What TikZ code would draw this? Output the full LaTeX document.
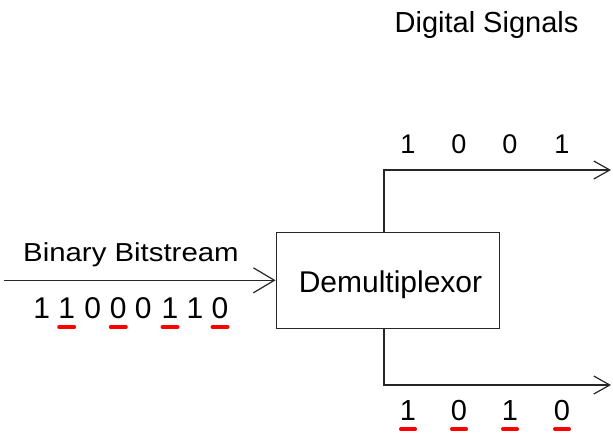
\documentclass[tikz,border=0pt]{standalone}
\usepackage{fontspec}
\setmainfont{Liberation Sans}
\usetikzlibrary{arrows.meta}
\tikzset{
  lbl/.style={inner sep=0pt, anchor=base},
  wire/.style={line width=1.3pt, draw=black!85},
  bigbarb/.style={-{Straight Barb[length=21pt,width=25pt,line width=1.2pt]}},
  smallbarb/.style={-{Straight Barb[length=16pt,width=18pt,line width=1.2pt]}},
  redmark/.style={line width=4pt, red, line cap=round},
}
\newcommand{\fs}[1]{\fontsize{#1}{#1}\selectfont}
\begin{document}
\begin{tikzpicture}[x=1pt,y=-1pt]
\useasboundingbox (0,0) rectangle (613,434);
% title
\node[lbl] (title) at (486.5,32) {\fs{29}Digital Signals};
% demux box
\node[draw=black!85, line width=1.3pt, minimum width=223pt, minimum height=96pt, inner sep=0pt] (demux) at (387.7,280.3) {};
\node[lbl] (demuxtxt) at (390.5,292) {\fs{30}Demultiplexor};
% input
\coordinate (in) at (4,280.3);
\draw[wire, bigbarb] (in) -- (demux.west);
\node[lbl, anchor=base west] (bin) at (23,261) {\scalebox{1.13}[1]{\fs{26}Binary Bitstream}};
% input digits
\foreach \d/\x [count=\i] in {1/41.7,1/66.7,0/92.7,0/118.3,0/143.3,1/170,1/195,0/220}{
  \node[lbl] (b\i) at (\x,318) {\fs{30}\d};
}
\foreach \i in {2,4,6,8}{
  \draw[redmark] ([xshift=-7.5pt,yshift=-9pt]b\i.base) -- ([xshift=7.5pt,yshift=-9pt]b\i.base);
}
% outputs
\coordinate (tc) at (384,170);
\coordinate (bc) at (384,385);
\coordinate (tout) at (611,170);
\coordinate (bout) at (611,385);
\draw[wire, smallbarb] (demux.north -| tc) -- (tc) -- (tout);
\draw[wire, smallbarb] (demux.south -| bc) -- (bc) -- (bout);
% top digits
\foreach \d/\x [count=\i] in {1/408,0/459,0/510,1/562}{
  \node[lbl] (t\i) at (\x,153.3) {\fs{27}\d};
}
% bottom digits
\foreach \d/\x [count=\i] in {1/408,0/459,1/510,0/562}{
  \node[lbl] (u\i) at (\x,420.7) {\fs{29}\d};
  \draw[redmark] ([xshift=-7pt,yshift=-8.5pt]u\i.base) -- ([xshift=7pt,yshift=-8.5pt]u\i.base);
}
\end{tikzpicture}
\end{document}
